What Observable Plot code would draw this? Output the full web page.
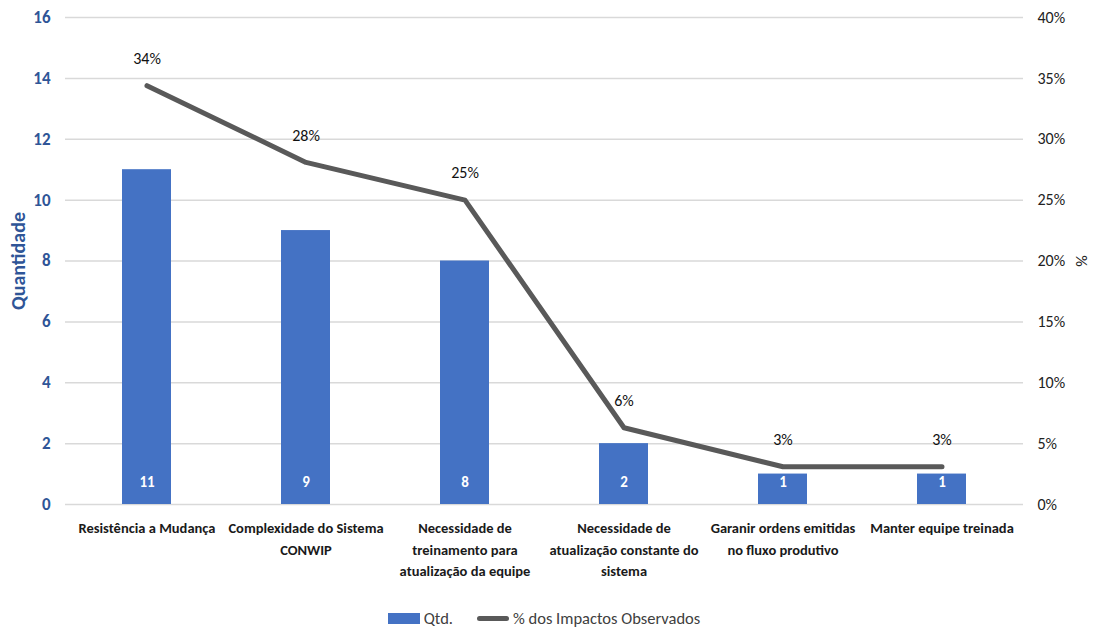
<!DOCTYPE html>
<html>
<head>
<meta charset="utf-8">
<script src="https://cdn.jsdelivr.net/npm/d3@7"></script>
<script src="https://cdn.jsdelivr.net/npm/@observablehq/plot@0.6"></script>
<style>
  html, body { margin: 0; padding: 0; background: #fff; }
  body { width: 1094px; height: 631px; overflow: hidden; font-family: Carlito, "Liberation Sans Narrow", "Open Sans", sans-serif; }
  #legend { display: flex; justify-content: center; align-items: center; gap: 24px; font-size: 16.5px; color: #404040; margin-top: 11px; padding-right: 6px; }
  .item { display: flex; align-items: center; gap: 4px; }
  .sw-bar { width: 32px; height: 11px; background: #4472C4; }
  .sw-line { width: 32px; height: 5px; background: #595959; border-radius: 3px; }
</style>
</head>
<body>
<div id="chart"></div>
<div id="legend">
  <div class="item"><span class="sw-bar"></span><span>Qtd.</span></div>
  <div class="item"><span class="sw-line"></span><span>% dos Impactos Observados</span></div>
</div>
<script>
// Impact categories (tick labels with line breaks)
const categories = [
  "Resistência a Mudança",
  "Complexidade do Sistema\nCONWIP",
  "Necessidade de\ntreinamento para\natualização da equipe",
  "Necessidade de\natualização constante do\nsistema",
  "Garanir ordens emitidas\nno fluxo produtivo",
  "Manter equipe treinada"
];
// Quantity of occurrences per category
const counts = [11, 9, 8, 2, 1, 1];
// Share of observed impacts, in percent
const percents = [34.4, 28.1, 25.0, 6.3, 3.1, 3.1];
// Axis ticks
const leftTicks = [0, 2, 4, 6, 8, 10, 12, 14, 16];
const rightTickLabels = ["0%", "5%", "10%", "15%", "20%", "25%", "30%", "35%", "40%"];

// The right axis (0–40%) shares the left scale (0–16): 1% = 0.4 units
const pctToY = p => p * 16 / 40;

const rows = categories.map((c, i) => ({cat: c, n: counts[i], pct: percents[i], yPct: pctToY(percents[i])}));

const blue = "#4472C4";
const axisBlue = "#2F5597";
const lineGray = "#595959";

const chart = Plot.plot({
  width: 1094,
  height: 597,
  marginTop: 17,
  marginBottom: 93,
  marginLeft: 65,
  marginRight: 71,
  style: {fontFamily: 'Carlito, "Liberation Sans Narrow", "Open Sans", sans-serif', background: "#fff"},
  x: {domain: categories, paddingInner: 0.69, paddingOuter: 0.345, align: 0.5},
  y: {domain: [0, 16]},
  marks: [
    Plot.gridY(leftTicks, {stroke: "#d9d9d9", strokeOpacity: 1, strokeWidth: 1.5}),
    Plot.barY(rows, {x: "cat", y: "n", fill: blue}),
    Plot.text(rows, {x: "cat", y: 0, dy: -22, text: d => String(d.n), fill: "white", fontWeight: "bold", fontSize: 15}),
    Plot.line(rows, {x: "cat", y: "yPct", stroke: lineGray, strokeWidth: 5, strokeLinecap: "round", strokeLinejoin: "round"}),
    Plot.text(rows, {x: "cat", y: "yPct", dy: -27, text: d => Math.round(d.pct) + "%", fill: "#111", fontSize: 16}),
    // left axis: Quantidade
    Plot.axisY(leftTicks, {anchor: "left", tickSize: 0, tickPadding: 15, fontSize: 17, fontWeight: "bold", fill: axisBlue, label: null}),
    Plot.text(["Quantidade"], {frameAnchor: "left", textAnchor: "middle", dx: -47, rotate: -90, fontSize: 20, fontWeight: "bold", fill: axisBlue}),
    // right axis: percentage
    Plot.axisY(leftTicks, {anchor: "right", tickSize: 0, tickPadding: 14, fontSize: 16, fill: "#222", label: null,
      tickFormat: (d, i) => rightTickLabels[i]}),
    Plot.text(["%"], {frameAnchor: "right", textAnchor: "middle", dx: 58, rotate: 90, fontSize: 16, fill: "#222"}),
    // category axis
    Plot.axisX({tickSize: 0, tickPadding: 13, fontSize: 14.5, fontWeight: "bold", fill: "#1a1a1a", lineHeight: 1.5, label: null})
  ]
});
document.getElementById("chart").appendChild(chart);
</script>
</body>
</html>
